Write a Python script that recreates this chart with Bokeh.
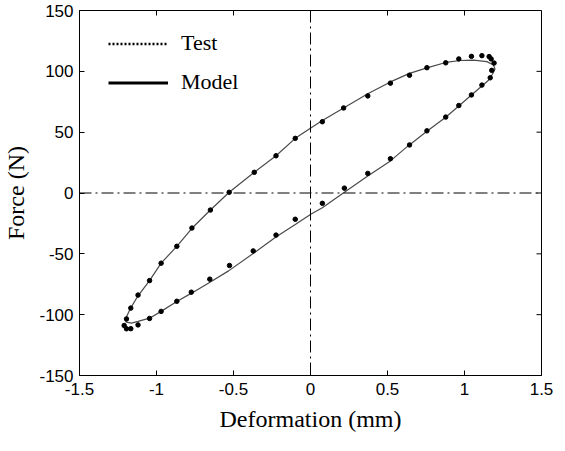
import math
from bokeh.plotting import figure
from bokeh.models import (Range1d, FixedTicker, Span, Legend, LegendItem, ColumnDataSource)
from bokeh.embed import file_html
from bokeh.resources import INLINE

# ---- data ----
test_x = [-1.195, -1.167, -1.12, -1.045, -0.97, -0.868, -0.77, -0.65, -0.528, -0.365,
          -0.224, -0.099, 0.077, 0.215, 0.372, 0.519, 0.643, 0.756, 0.878, 0.963,
          1.045, 1.113, 1.16, 1.173, 1.192, 1.177, 1.167, 1.113, 1.045, 0.963,
          0.878, 0.756, 0.643, 0.519, 0.372, 0.22, 0.077, -0.099, -0.224, -0.372,
          -0.526, -0.654, -0.774, -0.868, -0.97, -1.045, -1.12, -1.167, -1.195, -1.21]
test_y = [-103.5, -94.6, -83.9, -72.0, -57.7, -43.8, -28.8, -14.0, 0.6, 17.0,
          30.6, 44.9, 58.6, 69.9, 79.8, 90.3, 96.8, 103.0, 107.0, 110.2,
          112.3, 112.9, 112.1, 110.2, 106.8, 100.8, 94.7, 88.7, 80.6, 71.9,
          62.4, 51.1, 39.5, 28.2, 16.1, 4.0, -8.5, -21.6, -34.6, -47.6,
          -59.6, -70.8, -81.5, -89.0, -97.3, -103.1, -108.4, -111.5, -111.6, -108.9]

model_x = [-1.20, -1.195, -1.17, -1.12, -1.045, -0.97, -0.868, -0.77, -0.65, -0.528,
           -0.365, -0.224, -0.099, 0.002, 0.077, 0.215, 0.372, 0.519, 0.643, 0.756,
           0.878, 0.974, 1.06, 1.145, 1.188, 1.198, 1.183, 1.156, 1.113, 1.045,
           0.963, 0.878, 0.756, 0.632, 0.519, 0.372, 0.22, 0.077, 0.002, -0.094,
           -0.227, -0.372, -0.532, -0.65, -0.767, -0.868, -0.97, -1.045, -1.12, -1.163,
           -1.195, -1.20]
model_y = [-106.0, -102.0, -95.0, -84.5, -72.0, -57.7, -43.8, -29.0, -14.0, 0.6,
           17.0, 30.6, 44.9, 53.5, 59.5, 69.9, 81.5, 91.3, 98.3, 102.8,
           107.3, 108.9, 109.2, 108.0, 105.2, 102.0, 98.0, 92.7, 88.0, 80.6,
           71.5, 62.2, 50.8, 38.5, 26.4, 14.0, 0.6, -12.1, -17.4, -25.5,
           -36.3, -49.7, -64.0, -73.1, -81.9, -89.2, -97.3, -102.9, -105.5, -106.9,
           -106.1, -106.0]

x_ticks = [-1.5, -1.0, -0.5, 0.0, 0.5, 1.0, 1.5]
x_tick_labels = ["-1.5", "-1", "-0.5", "0", "0.5", "1", "1.5"]
y_ticks = [-150, -100, -50, 0, 50, 100, 150]
y_tick_labels = ["-150", "-100", "-50", "0", "50", "100", "150"]

x_label = "Deformation (mm)"
y_label = "Force (N)"
series_names = ["Test", "Model"]

SERIF = "Liberation Serif"
SANS = "Liberation Sans"
X_MIN, X_MAX = x_ticks[0], x_ticks[-1]
Y_MIN, Y_MAX = y_ticks[0], y_ticks[-1]

p = figure(width=557, height=443, output_backend="svg", toolbar_location=None,
           x_range=Range1d(X_MIN, X_MAX), y_range=Range1d(Y_MIN, Y_MAX),
           min_border_left=73, min_border_right=16, min_border_top=10, min_border_bottom=68,
           background_fill_color="white", border_fill_color="white")
p.grid.visible = False
p.outline_line_color = "black"
p.outline_line_width = 1

def style_axis(ax, ticks, labels):
    ax.ticker = FixedTicker(ticks=ticks)
    ax.major_label_overrides = {t: l for t, l in zip(ticks, labels)}
    ax.major_tick_in = 5
    ax.major_tick_out = 0
    ax.minor_tick_line_color = None
    ax.axis_line_color = "black"
    ax.major_tick_line_color = "black"
    ax.major_label_text_font = SANS
    ax.major_label_text_font_size = "17px"
    ax.major_label_text_color = "black"
    ax.axis_label_text_font = SERIF
    ax.axis_label_text_font_size = "24px"
    ax.axis_label_text_font_style = "normal"
    ax.axis_label_text_color = "black"

style_axis(p.xaxis[0], x_ticks, x_tick_labels)
style_axis(p.yaxis[0], y_ticks, y_tick_labels)
p.xaxis[0].axis_label = x_label
p.yaxis[0].axis_label = y_label
p.xaxis[0].major_label_standoff = 7
p.xaxis[0].axis_label_standoff = 8
p.yaxis[0].major_label_standoff = 6
p.yaxis[0].axis_label_standoff = 7

# inward tick marks on the top and right frame edges
p.ray(x=x_ticks, y=[Y_MAX] * len(x_ticks), length=5, length_units="screen",
      angle=-math.pi / 2, line_color="black", line_width=1)
p.ray(x=[X_MAX] * len(y_ticks), y=y_ticks, length=5, length_units="screen",
      angle=math.pi, line_color="black", line_width=1)

# zero reference lines (dash-dot)
for dim in ("height", "width"):
    p.add_layout(Span(location=0, dimension=dim, line_color="black",
                      line_width=1, line_dash="12 4 2 4"))

# data
model_src = ColumnDataSource(dict(x=model_x, y=model_y))
test_src = ColumnDataSource(dict(x=test_x, y=test_y))
p.line("x", "y", source=model_src, line_color="#4a4a4a", line_width=1.2)
p.scatter("x", "y", source=test_src, size=4.5, marker="circle",
          fill_color="black", line_color="black")

# legend proxies (styles shown in the legend)
nan = float("nan")
leg_test = p.line(x=[nan], y=[nan], line_color="black", line_width=2.5, line_dash="2 2")
leg_model = p.line(x=[nan], y=[nan], line_color="black", line_width=3)

legend = Legend(items=[LegendItem(label=series_names[0], renderers=[leg_test]),
                       LegendItem(label=series_names[1], renderers=[leg_model])],
                location=(29, 280), orientation="vertical",
                glyph_width=60, glyph_height=25, label_height=25, label_standoff=13,
                spacing=13, padding=0, margin=0,
                label_text_font=SERIF, label_text_font_size="22px",
                label_text_color="black",
                border_line_color=None, background_fill_alpha=0)
p.add_layout(legend, "center")

open("out.html", "w").write(file_html(p, INLINE))
